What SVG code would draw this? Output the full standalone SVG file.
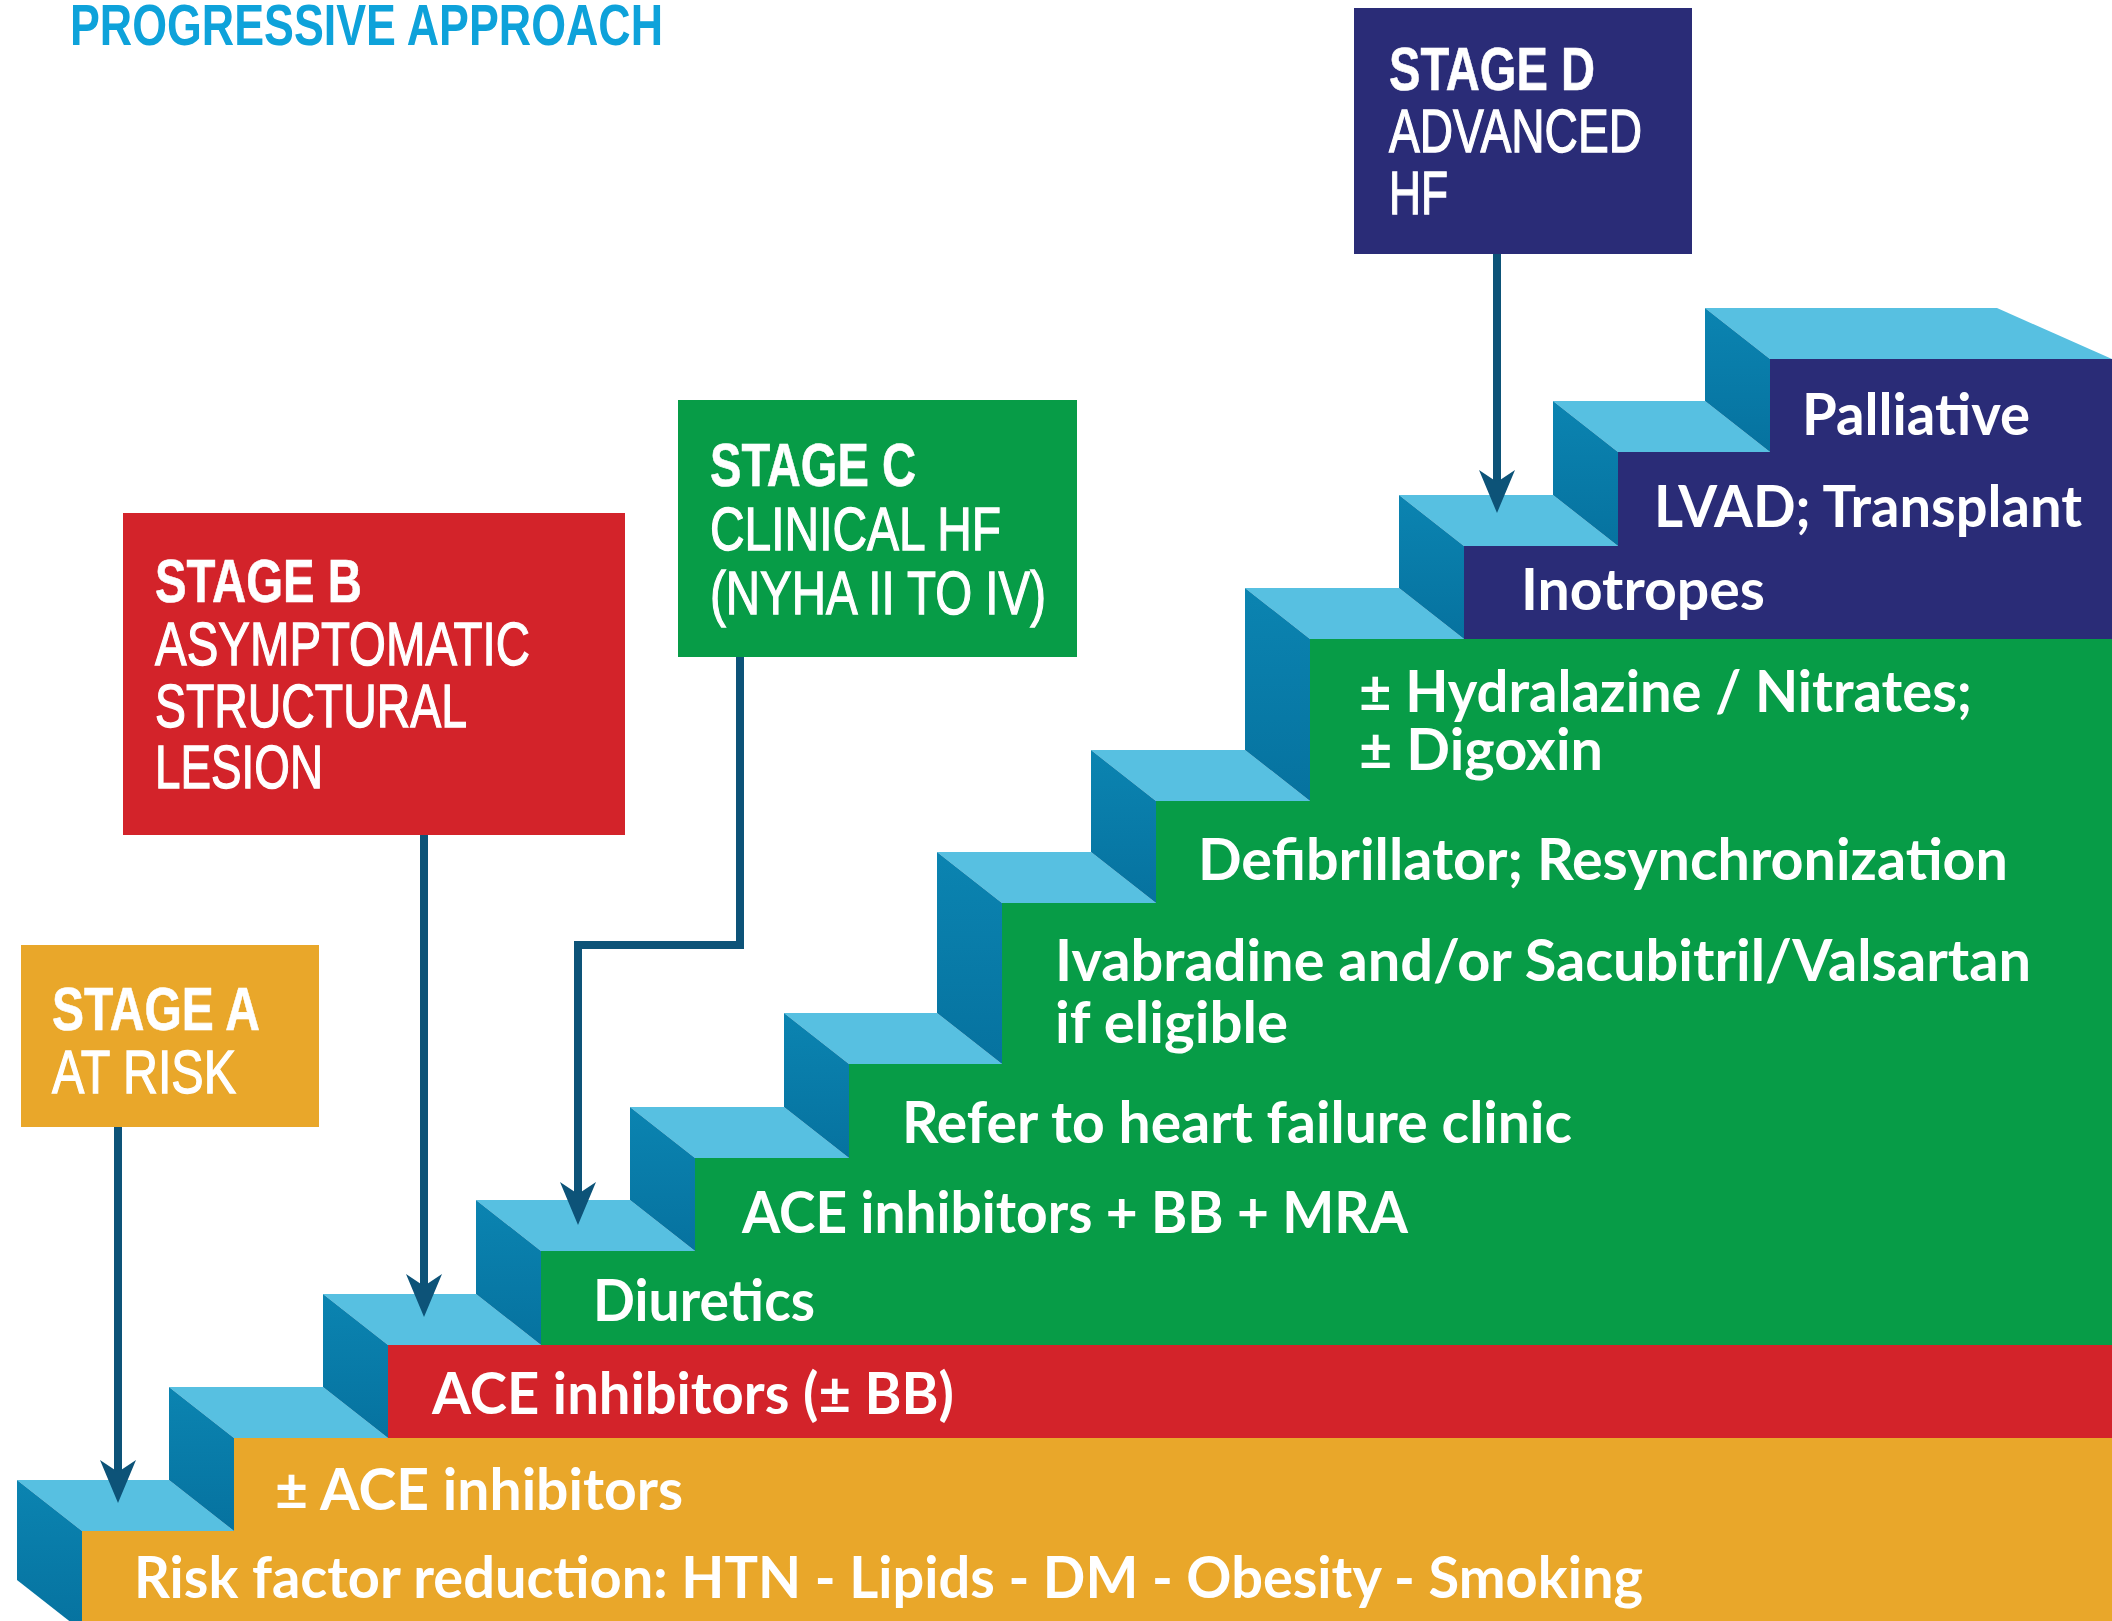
<svg xmlns="http://www.w3.org/2000/svg" width="2112" height="1621" viewBox="0 0 2112 1621">
<defs>
<style>
.orange{fill:#e9a72a}
.red{fill:#d3232a}
.green{fill:#079c47}
.navy{fill:#2a2c77}
.tread{fill:#57c0e1}
.side{fill:url(#sideGrad)}
.hd{font-family:"Liberation Sans",Arial,sans-serif;font-size:62px;fill:#fff;stroke:#fff;stroke-width:1.3px}
.hd .b{font-weight:700;stroke-width:0.6px}
.lbl{font-family:Lato,"Open Sans",sans-serif;font-weight:700;font-size:57px;fill:#fff}
.title{font-family:"Liberation Sans",Arial,sans-serif;font-weight:700;font-size:57px;fill:#0ea2da}
.conn{fill:none;stroke:#0d5378;stroke-width:8;stroke-linejoin:miter;marker-end:url(#head)}
</style>
<linearGradient id="sideGrad" x1="0" y1="0" x2="0" y2="1">
<stop offset="0" stop-color="#0b84b1"/>
<stop offset="1" stop-color="#06729f"/>
</linearGradient>
<marker id="head" markerUnits="userSpaceOnUse" markerWidth="50" markerHeight="40" refX="18" refY="20" orient="auto">
<path d="M0,2 L43,20 L0,38 L12,20 Z" fill="#0d5378"/>
</marker>
</defs>
<rect width="2112" height="1621" fill="#fff"/>
<text class="title" x="70" y="45" textLength="593" lengthAdjust="spacingAndGlyphs">PROGRESSIVE APPROACH</text>

<g id="steps">
<g id="step-1">
<rect class="orange" x="82" y="1531" width="2030" height="90"/>
<polygon class="tread" points="17,1480 169,1480 234,1531 82,1531"/>
<polygon class="side" points="17,1480 82,1531 82,1631 17,1580"/>
<text class="lbl" x="134" y="1598" textLength="1509" lengthAdjust="spacingAndGlyphs">Risk factor reduction: HTN - Lipids - DM - Obesity - Smoking</text>
</g>
<g id="step-2">
<rect class="orange" x="234" y="1438" width="1878" height="93"/>
<polygon class="tread" points="169,1387 323,1387 388,1438 234,1438"/>
<polygon class="side" points="169,1387 234,1438 234,1531 169,1480"/>
<text class="lbl" x="275" y="1510" textLength="408" lengthAdjust="spacingAndGlyphs">± ACE inhibitors</text>
</g>
<g id="step-3">
<rect class="red" x="388" y="1345" width="1724" height="93"/>
<polygon class="tread" points="323,1294 476,1294 541,1345 388,1345"/>
<polygon class="side" points="323,1294 388,1345 388,1438 323,1387"/>
<text class="lbl" x="432" y="1414" textLength="522" lengthAdjust="spacingAndGlyphs">ACE inhibitors (± BB)</text>
</g>
<g id="step-4">
<rect class="green" x="541" y="1251" width="1571" height="94"/>
<polygon class="tread" points="476,1200 630,1200 695,1251 541,1251"/>
<polygon class="side" points="476,1200 541,1251 541,1345 476,1294"/>
<text class="lbl" x="593" y="1321" textLength="222" lengthAdjust="spacingAndGlyphs">Diuretics</text>
</g>
<g id="step-5">
<rect class="green" x="695" y="1158" width="1417" height="93"/>
<polygon class="tread" points="630,1107 784,1107 849,1158 695,1158"/>
<polygon class="side" points="630,1107 695,1158 695,1251 630,1200"/>
<text class="lbl" x="742" y="1233" textLength="666" lengthAdjust="spacingAndGlyphs">ACE inhibitors + BB + MRA</text>
</g>
<g id="step-6">
<rect class="green" x="849" y="1064" width="1263" height="94"/>
<polygon class="tread" points="784,1013 937,1013 1002,1064 849,1064"/>
<polygon class="side" points="784,1013 849,1064 849,1158 784,1107"/>
<text class="lbl" x="902" y="1143" textLength="670" lengthAdjust="spacingAndGlyphs">Refer to heart failure clinic</text>
</g>
<g id="step-7">
<rect class="green" x="1002" y="903" width="1110" height="161"/>
<polygon class="tread" points="937,852 1091,852 1156,903 1002,903"/>
<polygon class="side" points="937,852 1002,903 1002,1064 937,1013"/>
<text class="lbl" x="1055" y="981" textLength="976" lengthAdjust="spacingAndGlyphs">Ivabradine and/or Sacubitril/Valsartan</text>
<text class="lbl" x="1055" y="1043" textLength="233" lengthAdjust="spacingAndGlyphs">if eligible</text>
</g>
<g id="step-8">
<rect class="green" x="1156" y="801" width="956" height="102"/>
<polygon class="tread" points="1091,750 1245,750 1310,801 1156,801"/>
<polygon class="side" points="1091,750 1156,801 1156,903 1091,852"/>
<text class="lbl" x="1198" y="880" textLength="810" lengthAdjust="spacingAndGlyphs">Defibrillator; Resynchronization</text>
</g>
<g id="step-9">
<rect class="green" x="1310" y="639" width="802" height="162"/>
<polygon class="tread" points="1245,588 1399,588 1464,639 1310,639"/>
<polygon class="side" points="1245,588 1310,639 1310,801 1245,750"/>
<text class="lbl" x="1359" y="712" textLength="613" lengthAdjust="spacingAndGlyphs">± Hydralazine / Nitrates;</text>
<text class="lbl" x="1359" y="770" textLength="244" lengthAdjust="spacingAndGlyphs">± Digoxin</text>
</g>
<g id="step-10">
<rect class="navy" x="1464" y="546" width="648" height="93"/>
<polygon class="tread" points="1399,495 1553,495 1618,546 1464,546"/>
<polygon class="side" points="1399,495 1464,546 1464,639 1399,588"/>
<text class="lbl" x="1521" y="610" textLength="244" lengthAdjust="spacingAndGlyphs">Inotropes</text>
</g>
<g id="step-11">
<rect class="navy" x="1618" y="452" width="494" height="94"/>
<polygon class="tread" points="1553,401 1705,401 1770,452 1618,452"/>
<polygon class="side" points="1553,401 1618,452 1618,546 1553,495"/>
<text class="lbl" x="1654" y="527" textLength="428" lengthAdjust="spacingAndGlyphs">LVAD; Transplant</text>
</g>
<g id="step-12">
<rect class="navy" x="1770" y="359" width="342" height="93"/>
<polygon class="tread" points="1705,308 1997,308 2112,359 1770,359"/>
<polygon class="side" points="1705,308 1770,359 1770,452 1705,401"/>
<text class="lbl" x="1802" y="435" textLength="228" lengthAdjust="spacingAndGlyphs">Palliative</text>
</g>
</g>

<g id="stage-a">
<rect class="orange" x="21" y="945" width="298" height="182"/>
<text class="hd"><tspan class="b" x="52" y="1030" textLength="208" lengthAdjust="spacingAndGlyphs">STAGE A</tspan><tspan x="52" y="1093" textLength="184" lengthAdjust="spacingAndGlyphs">AT RISK</tspan></text>
</g>
<g id="stage-b">
<rect class="red" x="123" y="513" width="502" height="322"/>
<text class="hd"><tspan class="b" x="155" y="602" textLength="207" lengthAdjust="spacingAndGlyphs">STAGE B</tspan><tspan x="155" y="665" textLength="375" lengthAdjust="spacingAndGlyphs">ASYMPTOMATIC</tspan><tspan x="155" y="727" textLength="312" lengthAdjust="spacingAndGlyphs">STRUCTURAL</tspan><tspan x="155" y="788" textLength="168" lengthAdjust="spacingAndGlyphs">LESION</tspan></text>
</g>
<g id="stage-c">
<rect class="green" x="678" y="400" width="399" height="257"/>
<text class="hd"><tspan class="b" x="710" y="486" textLength="206" lengthAdjust="spacingAndGlyphs">STAGE C</tspan><tspan x="710" y="550" textLength="291" lengthAdjust="spacingAndGlyphs">CLINICAL HF</tspan><tspan x="710" y="614" textLength="336" lengthAdjust="spacingAndGlyphs">(NYHA II TO IV)</tspan></text>
</g>
<g id="stage-d">
<rect class="navy" x="1354" y="8" width="338" height="246"/>
<text class="hd"><tspan class="b" x="1389" y="90" textLength="206" lengthAdjust="spacingAndGlyphs">STAGE D</tspan><tspan x="1389" y="152" textLength="253" lengthAdjust="spacingAndGlyphs">ADVANCED</tspan><tspan x="1389" y="214" textLength="59" lengthAdjust="spacingAndGlyphs">HF</tspan></text>
</g>

<g id="connectors">
<path class="conn" d="M118,1127 V1478"/>
<path class="conn" d="M424,835 V1292"/>
<path class="conn" d="M740,657 V945 H578 V1200"/>
<path class="conn" d="M1497,254 V488"/>
</g>
</svg>
